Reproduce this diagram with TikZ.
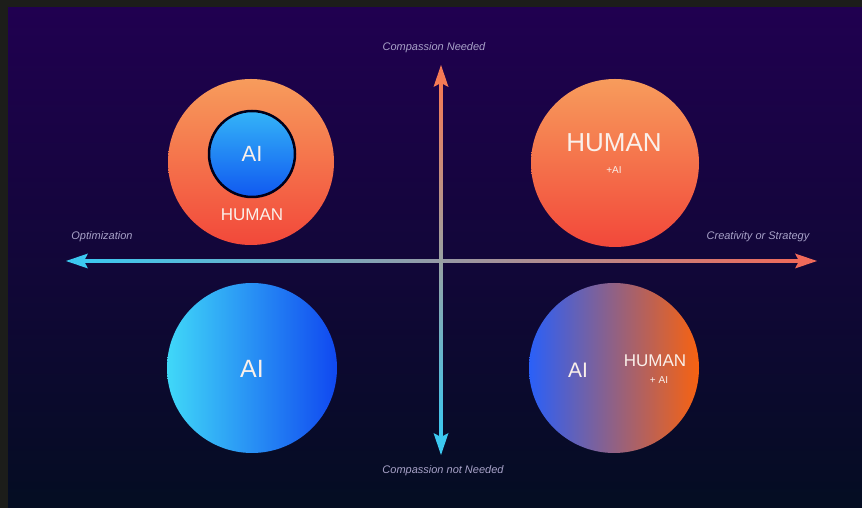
\documentclass[tikz,border=0pt]{standalone}
\usepackage{fontspec}
\setmainfont{Liberation Sans}
\definecolor{frame}{HTML}{1C1D1A}
\definecolor{bgtop}{HTML}{200050}
\definecolor{bgmid}{HTML}{120A3E}
\definecolor{bgbot}{HTML}{040D22}
\definecolor{axcyan}{HTML}{3CC8F0}
\definecolor{axgray}{HTML}{B4AED0}
\definecolor{axred}{HTML}{F06A5A}
\definecolor{axorange}{HTML}{F57A55}
\definecolor{lbl}{HTML}{A8A2C8}
\definecolor{orlight}{HTML}{F79C5C}
\definecolor{ordark}{HTML}{F2483A}
\definecolor{bllight}{HTML}{34B4F8}
\definecolor{bldark}{HTML}{1058F0}
\definecolor{cyl}{HTML}{40D8F8}
\definecolor{bldeep}{HTML}{1048F0}
\definecolor{mixl}{HTML}{2A60F8}
\definecolor{mixm}{HTML}{9A6088}
\definecolor{mixr}{HTML}{F86210}
\definecolor{txt}{HTML}{FAF0EA}
\tikzset{
  bubble/.style={circle, inner sep=0pt, minimum size=170pt},
  axlabel/.style={text=lbl, font=\itshape\fontsize{11}{13}\selectfont},
  big/.style={text=txt, font=\fontsize{#1}{#1}\selectfont, inner sep=0pt},
}
\begin{document}
\begin{tikzpicture}[x=1pt,y=1pt]
\useasboundingbox (0,0) rectangle (862,508);
% frame and background
\fill[frame] (0,0) rectangle (862,508);
\shade[top color=bgtop, middle color=bgmid, bottom color=bgbot] (8,0) rectangle (862,500);

% axis end points
\coordinate (L) at (66,247);
\coordinate (R) at (817,247);
\coordinate (T) at (441,443);
\coordinate (B) at (441,53);

% horizontal axis
\shade[left color=axcyan, middle color=axgray, right color=axred] ([xshift=18]L) ++(0,-1.6) rectangle ([xshift=-18]R |- 0,248.6);
\fill[axcyan] (L) -- ++(22,7.5) -- ++(-4,-7.5) -- ++(4,-7.5) -- cycle;
\fill[axred] (R) -- ++(-22,7.5) -- ++(4,-7.5) -- ++(-4,-7.5) -- cycle;

% vertical axis
\shade[top color=axorange, middle color=axgray, bottom color=axcyan] ([yshift=18]B) ++(-1.6,0) rectangle ([yshift=-18]T -| 442.6,0);
\fill[axorange] (T) -- ++(7.5,-22) -- ++(-7.5,4) -- ++(-7.5,-4) -- cycle;
\fill[axcyan] (B) -- ++(7.5,22) -- ++(-7.5,-4) -- ++(-7.5,4) -- cycle;

% axis labels
\node[axlabel] (ltop) at (434,460) {Compassion Needed};
\node[axlabel] (lbot) at (443,37) {Compassion not Needed};
\node[axlabel] (lleft) at (102,271) {Optimization};
\node[axlabel] (lright) at (758,271) {Creativity or Strategy};

% top-left quadrant
\node[bubble, minimum size=166pt, top color=orlight, bottom color=ordark] (tl) at (251,346) {};
\node[circle, inner sep=0pt, minimum size=86pt, top color=bllight, bottom color=bldark, draw=black!90!blue, line width=2.5pt] (tlai) at (252,354) {};
\node[big=22] (tlaitext) at (252,354) {AI};
\node[big=17] (tlhuman) at (252,293) {HUMAN};

% top-right quadrant
\node[bubble, minimum size=168pt, top color=orlight, bottom color=ordark] (tr) at (615,345) {};
\node[big=26] (trhuman) at (614,365) {HUMAN};
\node[big=10] (trai) at (614,338) {+AI};

% bottom-left quadrant
\node[bubble, left color=cyl, right color=bldeep] (bl) at (252,140) {};
\node[big=25] (blai) at (252,139) {AI};

% bottom-right quadrant
\node[bubble, left color=mixl, middle color=mixm, right color=mixr] (br) at (614,140) {};
\node[big=21] (brai) at (578,138) {AI};
\node[big=17] (brhuman) at (655,147) {HUMAN};
\node[big=10] (brplus) at (659,128) {+ AI};
\end{tikzpicture}
\end{document}
